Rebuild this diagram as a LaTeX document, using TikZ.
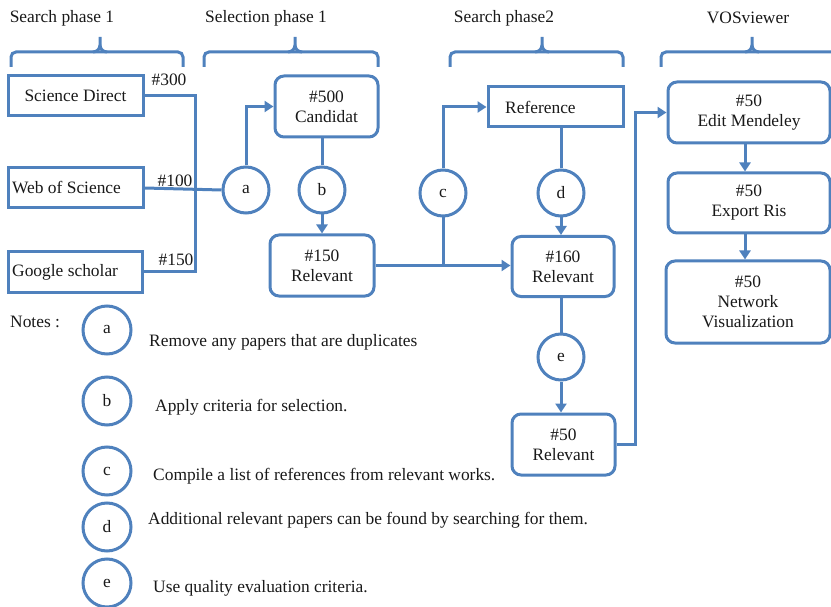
\documentclass[tikz,border=0pt]{standalone}
\usepackage{fontspec}
\setmainfont{Liberation Serif}
\usetikzlibrary{arrows.meta}
\definecolor{lineblue}{RGB}{79,129,189}
\definecolor{txt}{RGB}{25,25,25}
\begin{document}
\begin{tikzpicture}[x=1pt,y=-1pt,
  font=\fontsize{17.4}{20}\selectfont, text=txt,
  conn/.style={line width=3pt, draw=lineblue},
  sqbox/.style={draw=lineblue, line width=3pt, inner sep=0pt, align=center},
  rbox/.style={draw=lineblue, line width=3pt, inner sep=0pt, align=center, rounded corners=9pt},
  circ/.style={draw=lineblue, line width=3pt, circle, minimum size=46pt, inner sep=0pt},
  ncirc/.style={draw=lineblue, line width=3pt, circle, minimum size=48pt, inner sep=0pt},
  lbl/.style={inner sep=0pt},
  wlbl/.style={inner sep=0pt, anchor=west},
  arr/.style={conn, -{Triangle[width=11pt,length=9pt]}},
  brace/.style={conn, rounded corners=5pt}
]
\useasboundingbox (0,0) rectangle (831,607);

% headers
\node[lbl] (h1) at (62,18) {Search phase 1};
\node[lbl] (h2) at (266,18) {Selection phase 1};
\node[lbl] (h3) at (504,18) {Search phase2};
\node[lbl] (h4) at (748,18) {VOSviewer};

% braces
\foreach \xa/\xm/\xb in {11/100/183, 204/295/378, 450/542/623, 661/752/843}{
  \draw[brace] (\xa,67) -- (\xa,52) -- (\xb,52) -- (\xb,67);
  \draw[conn] (\xm-7,52) to[out=0,in=-90] (\xm,45) -- (\xm,37);
  \draw[conn] (\xm+7,52) to[out=180,in=-90] (\xm,45);
}

% search phase 1 boxes
\node[sqbox, minimum width=135pt, minimum height=40pt] (sd) at (75.5,95.5) {Science Direct};
\node[sqbox, minimum width=135pt, minimum height=40pt] (wos) at (75.5,188) {};
\node[wlbl] (wost) at (12,188) {Web of Science};
\node[sqbox, minimum width=134pt, minimum height=40pt] (gs) at (75,272) {};
\node[wlbl] (gst) at (12,272) {Google scholar};

\node[lbl] (n300) at (169,80) {\#300};
\node[lbl] (n100) at (175,181) {\#100};
\node[lbl] (n150) at (176,260) {\#150};

% selection phase 1
\node[circ] (a) at (246,190) {a};
\node[rbox, minimum width=103pt, minimum height=61pt] (cand) at (326.5,106.5) {\#500\\Candidat};
\node[circ] (b) at (322,190) {b};
\node[rbox, minimum width=104pt, minimum height=61pt] (r150) at (322,265.5) {\#150\\Relevant};

% search phase 2
\node[circ] (c) at (443,193) {c};
\node[sqbox, minimum width=135pt, minimum height=40pt] (ref) at (555.5,107) {};
\node[wlbl] (reft) at (505,107) {Reference};
\node[circ] (d) at (561,193) {d};
\node[rbox, minimum width=102pt, minimum height=60pt] (r160) at (563,266.5) {\#160\\Relevant};
\node[circ] (e) at (561,357) {e};
\node[rbox, minimum width=103pt, minimum height=61pt] (r50) at (563.5,444.5) {\#50\\Relevant};

% VOSviewer
\node[rbox, minimum width=162pt, minimum height=61pt] (edit) at (749,112.5) {\#50\\Edit Mendeley};
\node[rbox, minimum width=162pt, minimum height=60pt] (exp) at (749,203) {\#50\\Export Ris};
\node[rbox, minimum width=164pt, minimum height=82pt] (net) at (748,302) {\#50\\Network\\Visualization};

% connectors
\coordinate (j1) at (195,0);
\coordinate (j2) at (635,0);
\coordinate (j3) at (745,0);
\draw[conn] (sd.east) -| (j1 |- gs.east) -- (gs.east);
\draw[conn] (wos.east) -- (a.west);
\draw[arr] (a.north) |- (cand.west);
\draw[conn] (b.north) -- (b.north |- cand.south);
\draw[arr] (b.south) -- (b.south |- r150.north);
\draw[arr] (r150.east) -- (r150.east -| r160.west);
\draw[conn] (c.south) -- (c.south |- r150.east);
\draw[arr] (c.north) |- (ref.west);
\draw[conn] (d.north) -- (d.north |- ref.south);
\draw[arr] (d.south) -- (d.south |- r160.north);
\draw[conn] (e.north) -- (e.north |- r160.south);
\draw[arr] (e.south) -- (e.south |- r50.north);
\draw[arr] (r50.east) -| (j2 |- edit.west) -- (edit.west);
\draw[arr] (j3 |- edit.south) -- (j3 |- exp.north);
\draw[arr] (j3 |- exp.south) -- (j3 |- net.north);

% notes
\node[wlbl] (notes) at (10,322) {Notes :};
\node[ncirc] (na) at (107,330) {a};
\node[ncirc] (nb) at (107,401) {b};
\node[ncirc] (nc) at (107,471) {c};
\node[ncirc] (nd) at (107,527) {d};
\node[ncirc] (ne) at (107,583) {e};
\node[wlbl] (ta) at (149,342) {Remove any papers that are duplicates};
\node[wlbl] (tb) at (155,407) {Apply criteria for selection.};
\node[wlbl] (tc) at (153,476) {Compile a list of references from relevant works.};
\node[wlbl] (td) at (148,520) {Additional relevant papers can be found by searching for them.};
\node[wlbl] (te) at (153,588) {Use quality evaluation criteria.};
\end{tikzpicture}
\end{document}
